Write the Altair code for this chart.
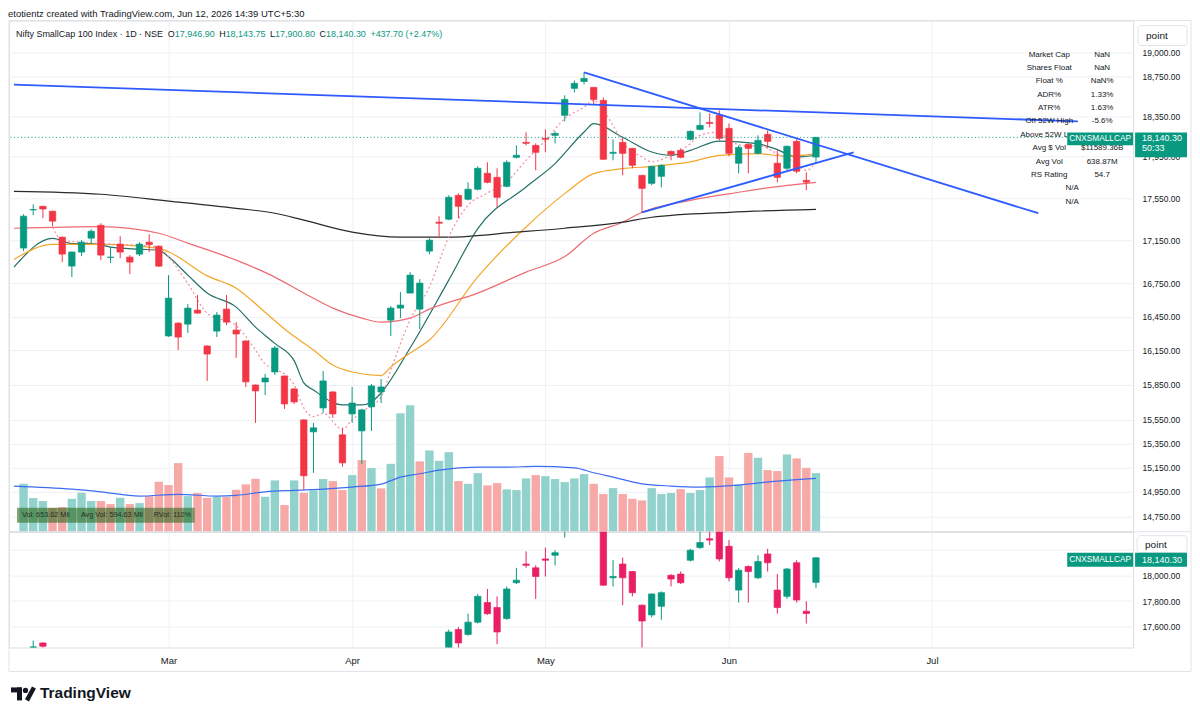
import altair as alt
import pandas as pd

FONT = "Liberation Sans"
INK = "#131722"
UP = "#089981"
DOWN = "#f23645"

header = "etotientz created with TradingView.com, Jun 12, 2026 14:39 UTC+5:30"
symbol = "Nifty SmallCap 100 Index · 1D · NSE"
ohlc_letters = ["O", "H", "L", "C"]
ohlc_values = ["17,946.90", "18,143.75", "17,900.80", "18,140.30"]
change_text = "+437.70 (+2.47%)"

# ---- daily candles (index 0 .. 82, last = 12 Jun) ----
opens = [17077, 17436, 17471, 17424, 17179, 16910, 17040, 17170, 17291, 16990,
         17114, 16993, 17021, 17132, 17095, 16278, 16392, 16383, 16509, 16189,
         16321, 16518, 16330, 16233, 15848, 15875, 15961, 15926, 15814, 15549,
         15448, 15651, 15788, 15423, 15600, 15456, 15660, 15788, 16419, 16527,
         16663, 16518, 17049, 17320, 17348, 17576, 17538, 17634, 17788, 17749,
         17662, 17944, 18091, 18061, 18131, 18160, 18360, 18632, 18702, 18642,
         18510, 17983, 18091, 18032, 17768, 17691, 17759, 18002, 18012, 18121,
         18220, 18289, 18360, 18230, 17886, 18071, 17983, 18170, 17886, 17837,
         18101, 17720, 17946.90]
highs = [17395, 17490, 17475, 17430, 17185, 17045, 17151, 17253, 17310, 17086,
         17188, 17012, 17132, 17207, 17100, 16827, 16400, 16563, 16645, 16195,
         16491, 16645, 16401, 16240, 15852, 15944, 16189, 15930, 15822, 15555,
         15524, 15970, 15795, 15482, 15831, 15643, 15857, 15900, 16545, 16672,
         16855, 16790, 17170, 17377, 17576, 17595, 17701, 17856, 17895, 17837,
         17915, 18061, 18190, 18081, 18220, 18200, 18561, 18712, 18795, 18645,
         18540, 18121, 18141, 18035, 17772, 17860, 17876, 18012, 18032, 18210,
         18389, 18379, 18409, 18279, 18061, 18081, 18160, 18210, 18012, 18061,
         18121, 17798, 18143.75]
lows = [17049, 17386, 17358, 17282, 16947, 16809, 17002, 17123, 16965, 16938,
        16984, 16836, 17002, 17040, 16901, 16270, 16153, 16304, 16478, 15883,
        16268, 16374, 16083, 15831, 15524, 15762, 15935, 15643, 15685, 14967,
        15106, 15608, 15566, 15156, 15524, 15181, 15456, 15693, 16277, 16437,
        16663, 16339, 17021, 17179, 17339, 17358, 17528, 17624, 17691, 17461,
        17653, 17934, 18061, 17817, 17993, 18081, 18299, 18591, 18672, 18469,
        17920, 17915, 17768, 17837, 17414, 17672, 17653, 17915, 17934, 18111,
        18210, 18240, 18111, 17954, 17788, 17788, 17973, 18032, 17701, 17817,
        17788, 17624, 17900.80]
closes = [17377, 17440, 17445, 17330, 17021, 17040, 17132, 17235, 17012, 16993,
          17040, 16947, 17114, 17110, 16910, 16617, 16268, 16527, 16482, 16118,
          16464, 16401, 16295, 15875, 15797, 15909, 16171, 15685, 15702, 15082,
          15482, 15883, 15600, 15189, 15693, 15634, 15840, 15831, 16527, 16554,
          16827, 16754, 17151, 17310, 17557, 17471, 17634, 17837, 17701, 17557,
          17895, 17964, 18081, 17993, 18121, 18180, 18520, 18683, 18733, 18520,
          17925, 17993, 17983, 17866, 17643, 17856, 17866, 17973, 17944, 18200,
          18260, 18279, 18131, 17983, 18042, 18032, 18111, 18101, 17749, 18052,
          17808, 17702.60, 18140.30]
volumes = [534, 375, 342, 264, 275, 367, 434, 342, 342, 308,
           378, 308, 319, 397, 557, 520, 765, 397, 431, 378,
           389, 389, 467, 528, 590, 390, 572, 297, 572, 434,
           461, 587, 564, 464, 631, 798, 709, 483, 757, 1321,
           1410, 784, 906, 790, 887, 564, 534, 653, 516, 542,
           472, 464, 594, 631, 620, 587, 553, 594, 642, 534,
           420, 486, 420, 367, 349, 486, 420, 431, 475, 431,
           464, 605, 843, 605, 528, 879, 824, 687, 676, 861,
           817, 712, 653.62]

# ---- moving averages (bar index, value) ----
teal_i = [-1, 3, 5, 7, 9, 12, 14, 15, 17, 19, 22, 24, 26, 28, 29, 30, 33, 35, 36, 37,
          40, 44, 47, 52, 55, 58, 59, 62, 65, 67, 69, 72, 76, 78, 80, 82]
teal_v = [16901, 17167, 17120, 17120, 17086, 17067, 17058, 16996, 16827, 16663, 16536,
          16356, 16212, 16060, 15866, 15805, 15677, 15677, 15702, 15780, 16171, 16781,
          17260, 17656, 17883, 18193, 18276, 18141, 17996, 17964, 18012, 18104, 18078,
          18019, 17947, 17964]
orange_i = [-1, 3, 8, 14, 15, 19, 22, 25, 27, 30, 32, 34, 37, 38, 40, 42, 47, 52, 56,
            59, 62, 65, 69, 72, 76, 79, 82]
orange_v = [16971, 17111, 17111, 17074, 17043, 16820, 16708, 16490, 16340, 16153, 16022,
            15961, 15930, 16005, 16127, 16242, 16811, 17275, 17592, 17785, 17833, 17856,
            17899, 17964, 17980, 17954, 17980]
red_i = [-1, 8, 14, 17, 22, 26, 29, 32, 35, 37, 40, 42, 47, 52, 56, 59, 62, 64, 69, 74, 79, 82]
red_v = [17263, 17279, 17216, 17123, 16965, 16809, 16663, 16527, 16437, 16401, 16437,
         16518, 16663, 16855, 16998, 17216, 17320, 17414, 17528, 17605, 17672, 17701]
black_i = [-1, 8, 15, 22, 26, 29, 34, 39, 44, 51, 56, 62, 65, 73, 82]
black_v = [17614, 17586, 17521, 17452, 17405, 17339, 17226, 17179, 17179, 17226, 17263,
           17320, 17367, 17414, 17442]
pink_i = [3, 4, 8, 14, 15, 17, 19, 22, 24, 25, 26, 28, 29, 30, 31, 33, 34, 35, 37, 38,
          40, 42, 44, 46, 48, 50, 52, 54, 56, 58, 59, 60, 61, 62, 64, 65, 67, 69, 70,
          72, 73, 75, 76, 78, 80, 81, 82]
pink_v = [17275, 17151, 17120, 17089, 16996, 16751, 16480, 16370, 16153, 16030, 15990,
          15850, 15651, 15577, 15605, 15470, 15549, 15617, 15745, 15978, 16419, 16720,
          17182, 17480, 17598, 17704, 17915, 18111, 18326, 18442, 18510, 18409, 18259,
          18094, 17947, 17899, 17964, 18078, 18160, 18193, 18111, 18052, 18061, 17980,
          17883, 17817, 17899]
vma_i = [-1, 5, 8, 12, 16, 20, 22, 25, 28, 31, 34, 37, 39, 41, 43, 47, 50, 53, 57, 59,
         61, 64, 67, 70, 74, 78, 82]
vma_v = [509, 475, 445, 397, 416, 397, 405, 445, 461, 475, 498, 531, 609, 646, 687, 720,
         720, 728, 712, 657, 609, 534, 509, 498, 520, 564, 594.63]

# ---- drawn trend lines (bar index, price) ----
trend_id = ["a", "a", "b", "b", "c", "c"]
trend_i = [-1, 109.1, 58, 105, 64, 85.9]
trend_v = [18671, 18299, 18795, 17405, 17414, 17993]

month_idx = [15, 34, 54, 73, 94]
month_names = ["Mar", "Apr", "May", "Jun", "Jul"]
price_ticks = [19000, 18750, 18350, 17950, 17550, 17150, 16750, 16450, 16150, 15850,
               15550, 15350, 15150, 14950, 14750]
lower_ticks = [17600, 17800, 18000, 18200]
last_close = 18140.30

stat_labels = ["Market Cap", "Shares Float", "Float %", "ADR%", "ATR%", "Off 52W High",
               "Above 52W Low", "Avg $ Vol", "Avg Vol", "RS Rating"]
stat_values_a = ["NaN", "NaN", "NaN%", "1.33%", "1.63%", "-5.6%"]
stat_values_b = ["$11589.36B", "638.87M", "54.7"]
stat_extra = ["N/A", "N/A"]
vol_legend = ["Vol: 653.62 Mil", "Avg Vol: 594.63 Mil", "RVol: 110%"]

# ---- frames ----
df = pd.DataFrame({"i": list(range(len(opens))), "open": opens, "high": highs,
                   "low": lows, "close": closes, "vol": volumes})
df["col"] = [UP if c >= o else DOWN for o, c in zip(opens, closes)]
df["lcol"] = [UP if c >= o else "#e91e63" for o, c in zip(opens, closes)]
prev = [None] + closes[:-1]
df["vcol"] = ["#92d2cc" if (p is None or c >= p) else "#f7a9a7" for p, c in zip(prev, closes)]

ma_df = pd.concat([
    pd.DataFrame({"i": teal_i, "v": teal_v, "ma": "teal"}),
    pd.DataFrame({"i": orange_i, "v": orange_v, "ma": "orange"}),
    pd.DataFrame({"i": red_i, "v": red_v, "ma": "red"}),
    pd.DataFrame({"i": black_i, "v": black_v, "ma": "black"}),
])
pink_df = pd.DataFrame({"i": pink_i, "v": pink_v})
vma_df = pd.DataFrame({"i": vma_i, "v": vma_v})
trend_df = pd.DataFrame({"id": trend_id, "i": trend_i, "v": trend_v})
one = pd.DataFrame({"a": [0]})

W, H1, H2 = 1126, 512, 116
GRID = "#eef0f5"

xscale = alt.Scale(domain=[-0.99, 114.3], nice=False, zero=False)
pscale = alt.Scale(type="log", domain=[14629, 19334], nice=False, zero=False)
vscale = alt.Scale(domain=[0, 5699], nice=False, zero=True)
lscale = alt.Scale(domain=[17435, 18345], nice=False, zero=False)

x_top_axis = alt.Axis(values=month_idx, labels=False, ticks=False, domain=False, grid=True,
                      gridColor=GRID, title=None, minExtent=0, maxExtent=0, labelPadding=0,
                      tickSize=0)
month_expr = " : ".join(f"datum.value == {m} ? '{n}'" for m, n in zip(month_idx, month_names)) + " : ''"
x_bot_axis = alt.Axis(values=month_idx, labelExpr=month_expr, ticks=False, tickSize=0,
                      domain=False, grid=True, gridColor=GRID, title=None, labelFont=FONT,
                      labelFontSize=9.5, labelColor=INK, labelPadding=8)
p_axis = alt.Axis(orient="right", values=price_ticks, format=",.2f", grid=True, gridColor=GRID,
                  ticks=False, tickSize=0, domain=False, labelPadding=9, labelFont=FONT,
                  labelFontSize=8.5, labelColor=INK, title=None, labelOverlap=False,
                  labelFlush=False)
l_axis = alt.Axis(orient="right", values=lower_ticks,
                  labelExpr="datum.value == 18200 ? '' : format(datum.value, ',.2f')",
                  grid=True, gridColor=GRID, ticks=False, tickSize=0, domain=False,
                  labelPadding=9, labelFont=FONT, labelFontSize=8.5, labelColor=INK,
                  title=None, labelOverlap=False, labelFlush=False)

XT = alt.X("i:Q", scale=xscale, axis=x_top_axis)
XB = alt.X("i:Q", scale=xscale, axis=x_bot_axis)


def txt(text, x, y, size=8.5, color=INK, align="left", weight="normal", baseline="middle", **kw):
    return alt.Chart(one).mark_text(text=text, align=align, baseline=baseline, fontSize=size,
                                    color=color, fontWeight=weight, font=FONT, **kw).encode(
        x=alt.value(x), y=alt.value(y))


def box(x1, x2, y1, y2, fill, stroke=None, opacity=1.0, radius=0, fill_opacity=None):
    kw = dict(fill=fill, opacity=opacity, cornerRadius=radius)
    if stroke:
        kw["stroke"] = stroke
        kw["strokeWidth"] = 1
    if fill_opacity is not None:
        kw["fillOpacity"] = fill_opacity
    return alt.Chart(one).mark_rect(**kw).encode(
        x=alt.value(x1), x2=alt.value(x2), y=alt.value(y1), y2=alt.value(y2))


def hline(x1, x2, y, color="#e0e3eb"):
    return alt.Chart(one).mark_rule(color=color, strokeWidth=1).encode(
        x=alt.value(x1), x2=alt.value(x2), y=alt.value(y), y2=alt.value(y))


def vline(x, y1, y2, color="#e0e3eb"):
    return alt.Chart(one).mark_rule(color=color, strokeWidth=1).encode(
        x=alt.value(x), x2=alt.value(x), y=alt.value(y1), y2=alt.value(y2))


# ---------------- top panel ----------------
vol_bars = alt.Chart(df).mark_bar(size=8.4).encode(
    x=XT, y=alt.Y("vol:Q", scale=vscale, axis=None), color=alt.Color("vcol:N", scale=None))
vol_ma = alt.Chart(vma_df).mark_line(color="#3d6cf2", strokeWidth=1.2, interpolate="monotone").encode(
    x=XT, y=alt.Y("v:Q", scale=vscale, axis=None))
top_vol = alt.layer(vol_bars, vol_ma)

YP = lambda f: alt.Y(f, scale=pscale, axis=p_axis)
ma_colors = alt.Scale(domain=["teal", "orange", "red", "black"],
                      range=["#237066", "#f4a62a", "#ef6a72", "#2a2a2a"])
ma_lines = alt.Chart(ma_df).mark_line(strokeWidth=1.2, interpolate="monotone", clip=True).encode(
    x=XT, y=YP("v:Q"), color=alt.Color("ma:N", scale=ma_colors, legend=None), detail="ma:N")
pink_line = alt.Chart(pink_df).mark_line(strokeWidth=1.2, strokeDash=[2, 2.5], color="#f28ca0",
                                         interpolate="monotone").encode(x=XT, y=YP("v:Q"))
wicks = alt.Chart(df).mark_rule(strokeWidth=1).encode(
    x=XT, y=YP("low:Q"), y2="high:Q", color=alt.Color("col:N", scale=None))
bodies = alt.Chart(df).mark_bar(size=6.4, strokeWidth=0.7).encode(
    x=XT, y=YP("open:Q"), y2="close:Q", color=alt.Color("col:N", scale=None),
    stroke=alt.Stroke("col:N", scale=None))
trends = alt.Chart(trend_df).mark_line(color="#2e5bff", strokeWidth=1.8, clip=True).encode(
    x=XT, y=YP("v:Q"), detail="id:N")
price_line = alt.Chart(one).mark_rule(color=UP, strokeDash=[1, 2.5], strokeWidth=1).encode(
    y=YP("p:Q")).transform_calculate(p=str(last_close))
top_price = alt.layer(ma_lines, pink_line, wicks, bodies, trends, price_line)

OY = 13
FS = 9
top_annot = [
    hline(0, 1184, 0), hline(0, 1184, H1), vline(0, 0, H1), vline(1184, 0, H1),
    txt(symbol, 7, OY, size=FS),
    txt(ohlc_letters[0], 159, OY, size=FS), txt(ohlc_values[0], 166, OY, size=FS, color=UP),
    txt(ohlc_letters[1], 210.5, OY, size=FS), txt(ohlc_values[1], 217, OY, size=FS, color=UP),
    txt(ohlc_letters[2], 261.5, OY, size=FS), txt(ohlc_values[2], 266.5, OY, size=FS, color=UP),
    txt(ohlc_letters[3], 311, OY, size=FS), txt(ohlc_values[3], 317.5, OY, size=FS, color=UP),
    txt(change_text, 362, OY, size=FS, color=UP),
    txt(stat_labels, 1042, 30, size=8, align="center", baseline="top", lineHeight=13.4),
    txt(stat_values_a, 1095, 30, size=8, align="center", baseline="top", lineHeight=13.4),
    txt(stat_values_b, 1095, 30 + 7 * 13.4, size=8, align="center", baseline="top", lineHeight=13.4),
    txt(stat_extra, 1065, 30 + 10 * 13.4, size=8, align="center", baseline="top", lineHeight=13.4),
    box(1060, 1126, 112, 125, UP),
    txt("CNXSMALLCAP", 1093, 118.5, size=8.3, color="white", align="center"),
    box(1128, 1180, 112, 137, UP),
    txt("18,140.30", 1135, 118, size=9, color="white"),
    txt("50:33", 1135, 128, size=9, color="white"),
    box(1131, 1180, 5, 25, "white", stroke="#e0e3eb", radius=3),
    txt("point", 1139, 15, size=10),
    box(8, 186, 488, 503, "#2f6b1f", opacity=0.6),
    txt(vol_legend[0], 13, 495.5, size=7.3, color="#243224"),
    txt(vol_legend[1], 72, 495.5, size=7.3, color="#243224"),
    txt(vol_legend[2], 145, 495.5, size=7.3, color="#243224"),
]

top = alt.layer(top_vol, top_price, *top_annot).resolve_scale(y="independent").properties(
    width=W, height=H1)

# ---------------- bottom panel ----------------
YL = lambda f: alt.Y(f, scale=lscale, axis=l_axis)
lwicks = alt.Chart(df).mark_rule(strokeWidth=1, clip=True).encode(
    x=XB, y=YL("low:Q"), y2="high:Q", color=alt.Color("lcol:N", scale=None))
lbodies = alt.Chart(df).mark_bar(size=6.4, strokeWidth=0.7, clip=True).encode(
    x=XB, y=YL("open:Q"), y2="close:Q", color=alt.Color("lcol:N", scale=None),
    stroke=alt.Stroke("lcol:N", scale=None))

bot_annot = [
    vline(0, 0, 140), vline(1184, 0, 140), hline(0, 1184, 140),
    box(1130, 1180, 4, 21, "white", stroke="#e0e3eb", radius=3),
    txt("point", 1138, 13.5, size=10),
    box(1060, 1126, 21, 35, UP),
    txt("CNXSMALLCAP", 1093, 28, size=8.3, color="white", align="center"),
    box(1128, 1180, 21, 35, UP),
    txt("18,140.30", 1135, 28, size=9, color="white"),
    # TradingView footer
    box(2, 13, 156, 161, INK),
    box(8, 13, 156, 169, INK),
    alt.Chart(one).mark_point(filled=True, size=28, color=INK, opacity=1).encode(
        x=alt.value(16.5), y=alt.value(159)),
    alt.Chart(one).mark_rule(strokeWidth=4.5, color=INK).encode(
        x=alt.value(18), y=alt.value(169), x2=alt.value(25), y2=alt.value(156)),
    txt("TradingView", 31, 162, size=15.5, weight="bold"),
]

bottom = alt.layer(lwicks, lbodies, *bot_annot).properties(width=W, height=H2)

chart = alt.vconcat(
    top, bottom, spacing=0, bounds="flush",
    title=alt.TitleParams(text=header, anchor="start", fontSize=9.5, font=FONT,
                          fontWeight="normal", color=INK, offset=1),
).properties(padding=0).configure_view(strokeWidth=0).configure(background="white")

chart.save("out.html", embed_options={"renderer": "svg", "actions": False})
